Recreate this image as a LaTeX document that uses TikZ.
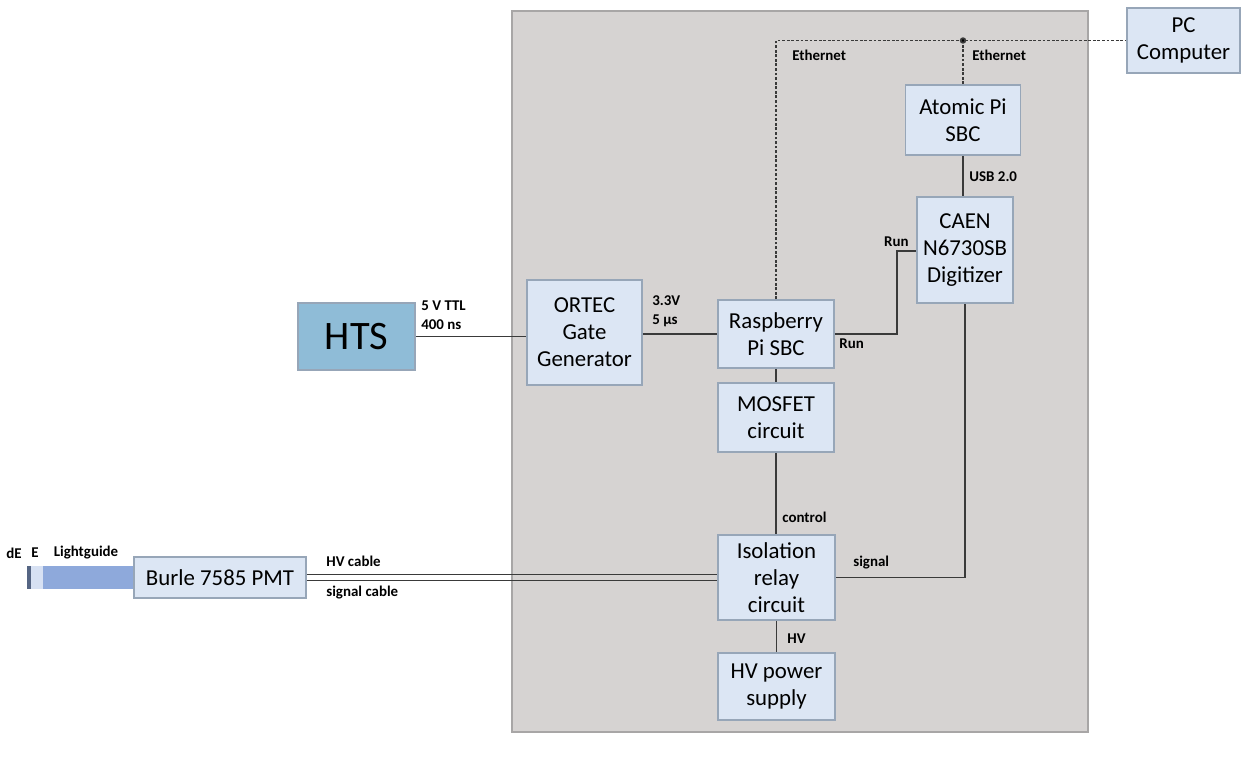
\documentclass[tikz,border=0pt]{standalone}
\usepackage{fontspec}
\setmainfont{Carlito}
\usepackage{tikz}
\usetikzlibrary{arrows.meta,positioning,calc}
\definecolor{boxfill}{HTML}{DCE6F4}
\definecolor{boxedge}{HTML}{97A6B8}
\definecolor{panelfill}{HTML}{D6D3D2}
\definecolor{paneledge}{HTML}{A8A6A6}
\definecolor{htsfill}{HTML}{8FBCD7}
\definecolor{guidefill}{HTML}{8EA9DB}
\definecolor{wire}{HTML}{3A3A3A}

\begin{document}
\begin{tikzpicture}[
      x=0.02cm,y=-0.02cm,
      box/.style={draw=boxedge,line width=0.9pt,fill=boxfill,align=center,inner sep=1pt,
        font=\fontsize{13}{15.3}\selectfont},
      htsbox/.style={box,fill=htsfill,font=\fontsize{23}{26}\selectfont},
      lbl/.style={font=\fontsize{8.5}{10}\selectfont\bfseries,inner sep=0pt,align=left},
      wire/.style={draw=wire,line width=1pt},
      eth/.style={draw=wire,line width=0.8pt,dash pattern=on 1.6pt off 1pt}
    ]
    \fill[white] (0,0) rectangle (1241,761);
    % shielded enclosure
    \draw[paneledge,fill=panelfill,line width=0.8pt] (512,11) rectangle (1088,732);

    % boxes
    \node[box,minimum width=2.26cm,minimum height=1.3cm] (pc) at (1183.5,40.5) {PC\\Computer};
    \node[box,minimum width=2.3cm,minimum height=1.4cm] (atomic) at (963,120) {Atomic Pi\\SBC};
    \node[box,minimum width=1.92cm,minimum height=2.12cm] (caen) at (965,250) {CAEN\\N6730SB\\Digitizer};
    \node[box,minimum width=2.32cm,minimum height=1.36cm] (rpi) at (776,334) {Raspberry\\Pi SBC};
    \node[box,minimum width=2.3cm,minimum height=2.1cm] (ortec) at (584.5,332.5) {ORTEC\\Gate\\Generator};
    \node[htsbox,minimum width=2.34cm,minimum height=1.34cm] (hts) at (356.5,336.5) {HTS};
    \node[box,minimum width=2.32cm,minimum height=1.38cm] (mosfet) at (776,417.5) {MOSFET\\circuit};
    \node[box,minimum width=2.34cm,minimum height=1.7cm] (iso) at (776.5,577.5) {Isolation\\relay\\circuit};
    \node[box,minimum width=2.34cm,minimum height=1.34cm] (hvps) at (776.5,686.5) {HV power\\supply};
    \node[box,minimum width=3.44cm,minimum height=0.82cm] (pmt) at (220,577.5) {Burle 7585 PMT};

    % detector stack and lightguide
    \fill[guidefill] (43,566) rectangle (pmt.west |- 0,589);
    \fill[guidefill!35] (31,566) rectangle (43,589);
    \fill[guidefill!60!black] (27,566) rectangle (31,589);
    \node[lbl] (de) at (14,553) {dE};
    \node[lbl] (e) at (35,553) {E};
    \node[lbl] (guide) at (86,553) {Lightguide};

    % connections
    \draw[eth] (rpi.north) |- (pc.west);
    \draw[eth] (atomic.north) -- (atomic.north |- pc.west);
    \fill[wire] (atomic.north |- pc.west) circle (1.3pt);
    \draw[wire] (atomic.south) -- (atomic.south |- caen.north);
    \draw[wire] (hts.east) -- (hts.east -| ortec.west);
    \draw[wire] (ortec.east |- rpi.west) -- (rpi.west);
    \coordinate (runbend) at (897,251);
    \draw[wire] (rpi.east) -| (runbend) -- (runbend -| caen.west);
    \draw[wire] (rpi.south) -- (mosfet.north);
    \draw[wire] (mosfet.south) -- (mosfet.south |- iso.north);
    \draw[wire] (iso.south) -- (hvps.north);
    \draw[wire] (iso.east) -| (caen.south);
    \draw[wire,line width=0.9pt] ([yshift=1.7pt]pmt.east) -- ([yshift=1.7pt]pmt.east -| iso.west);
    \draw[wire,line width=0.9pt] ([yshift=-1.7pt]pmt.east) -- ([yshift=-1.7pt]pmt.east -| iso.west);

    % labels
    \node[lbl,anchor=west] (ttl) at (421,315) {5 V TTL\\[1pt]400 ns};
    \node[lbl,anchor=west] (gate) at (652,311) {3.3V\\[1pt]5 µs};
    \node[lbl,anchor=east] (runin) at (909,242) {Run};
    \node[lbl,anchor=west] (runout) at (839,344) {Run};
    \node[lbl,anchor=west] (ethl) at (792,55) {Ethernet};
    \node[lbl,anchor=west] (ethr) at (972,55) {Ethernet};
    \node[lbl,anchor=west] (usb) at (969,177) {USB 2.0};
    \node[lbl,anchor=west] (ctrl) at (782,517) {control};
    \node[lbl,anchor=west] (sig) at (853,563) {signal};
    \node[lbl,anchor=west] (hv) at (787,639) {HV};
    \node[lbl,anchor=west] (hvc) at (326,561) {HV cable};
    \node[lbl,anchor=west] (sigc) at (326,593) {signal cable};
\end{tikzpicture}
\end{document}
